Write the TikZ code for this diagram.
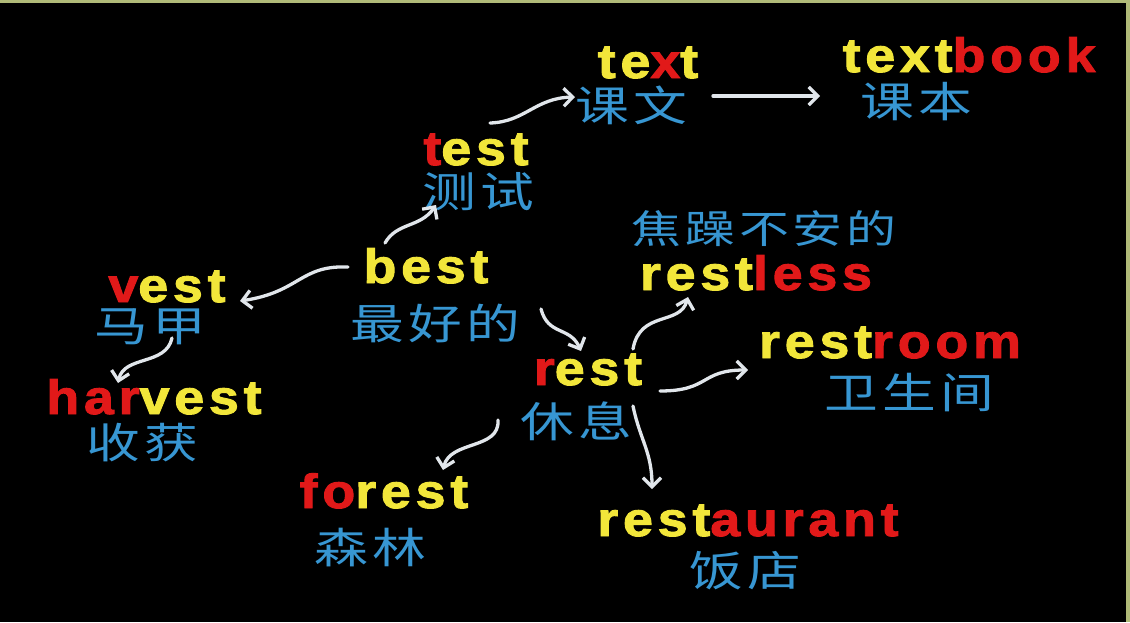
\documentclass[tikz,border=0pt]{standalone}
\usepackage{fontspec}
\usetikzlibrary{arrows.meta}
\newfontfamily\enfont{Liberation Sans}[UprightFont=* Bold, FakeStretch=1.12, LetterSpace=10, FakeBold=2]
\newfontfamily\cnfont{Noto Sans CJK SC}[FakeStretch=1.28, LetterSpace=10]
\definecolor{wy}{RGB}{242,230,58}
\definecolor{wr}{RGB}{225,25,25}
\definecolor{cb}{RGB}{55,150,210}
\definecolor{arw}{RGB}{225,230,235}
\definecolor{framec}{RGB}{176,186,120}
\newcommand\Yw[1]{\textcolor{wy}{#1}}
\newcommand\Rw[1]{\textcolor{wr}{#1}}
\begin{document}
\begin{tikzpicture}[x=1pt,y=-1pt,
  en/.style={anchor=base,inner sep=0pt,font=\enfont\fontsize{48}{48}\selectfont},
  cn/.style={anchor=center,inner sep=0pt,text=cb,font=\cnfont\fontsize{42}{42}\selectfont},
  arr/.style={draw=arw,line width=3.3pt,line cap=round,-{Straight Barb[length=9pt,width=18pt]}}]
\useasboundingbox (0,0) rectangle (1130,622);
\fill[black] (0,0) rectangle (1130,622);
\fill[framec] (0,0) rectangle (1130,3);
\fill[framec] (1126,0) rectangle (1130,622);
% English words
\node[en] (text) at (648,78) {\Yw{te}\Rw{x}\Yw{t}};
\node[en] (textbook) at (969,72) {\Yw{text}\Rw{book}};
\node[en] (test) at (476,165) {\Rw{t}\Yw{est}};
\node[en] (best) at (426,283) {\Yw{best}};
\node[en] (vest) at (167,302) {\Rw{v}\Yw{est}};
\node[en] (harvest) at (154,414) {\Rw{har}\Yw{vest}};
\node[en] (restless) at (756,290) {\Yw{rest}\Rw{less}};
\node[en] (rest) at (588,385) {\Rw{r}\Yw{est}};
\node[en] (restroom) at (890,358) {\Yw{rest}\Rw{room}};
\node[en] (forest) at (384,508) {\Rw{fo}\Yw{rest}};
\node[en] (restaurant) at (748,536) {\Yw{rest}\Rw{aurant}};
% Chinese words
\node[cn] (kewen) at (631,105) {课文};
\node[cn] (keben) at (916,102) {课本};
\node[cn] (ceshi) at (478,192) {测试};
\node[cn] (zuihao) at (435,323) {最好的};
\node[cn] (majia) at (150,327) {马甲};
\node[cn] (shouhuo) at (142,443) {收获};
\node[cn,font=\cnfont\fontsize{39}{39}\selectfont] (jiaozao) at (764,229) {焦躁不安的};
\node[cn] (xiuxi) at (576,421) {休息};
\node[cn] (weisheng) at (909,393) {卫生间};
\node[cn] (senlin) at (370,548) {森林};
\node[cn] (fandian) at (745,571) {饭店};
% arrow ends
\coordinate (a1s) at (490,123); \coordinate (a1e) at (575,97);
\coordinate (a2s) at (713,96);  \coordinate (a2e) at (820,96);
\coordinate (a3s) at (385,243); \coordinate (a3e) at (436,205);
\coordinate (a4s) at (348,267); \coordinate (a4e) at (240,301);
\coordinate (a5s) at (172,338); \coordinate (a5e) at (118,383);
\coordinate (a6s) at (541,309); \coordinate (a6e) at (581,351);
\coordinate (a7s) at (633,349); \coordinate (a7e) at (688,297);
\coordinate (a8s) at (660,391); \coordinate (a8e) at (748,370);
\coordinate (a9s) at (633,406); \coordinate (a9e) at (652,489);
\coordinate (a10s) at (498,420); \coordinate (a10e) at (443,470);
% arrows
\draw[arr] (a1s) .. controls (525,122) and (535,98) .. (a1e);
\draw[arr] (a2s) -- (a2e);
\draw[arr] (a3s) .. controls (397,222) and (420,228) .. (a3e);
\draw[arr] (a4s) .. controls (300,265) and (300,292) .. (a4e);
\draw[arr] (a5s) .. controls (166,366) and (124,355) .. (a5e);
\draw[arr] (a6s) .. controls (548,336) and (570,326) .. (a6e);
\draw[arr] (a7s) .. controls (640,310) and (680,326) .. (a7e);
\draw[arr] (a8s) .. controls (710,391) and (700,370) .. (a8e);
\draw[arr] (a9s) .. controls (640,440) and (652,452) .. (a9e);
\draw[arr] (a10s) .. controls (500,450) and (450,440) .. (a10e);
\end{tikzpicture}
\end{document}
